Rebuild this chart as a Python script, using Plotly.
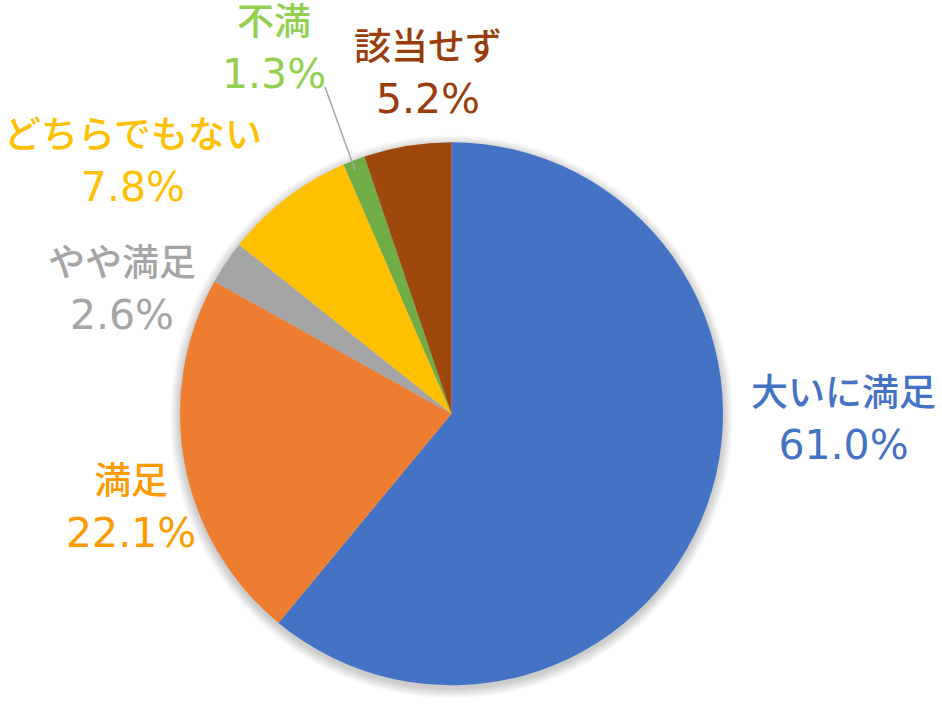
import plotly.graph_objects as go

# Survey answers and their shares (%)
categories = ["大いに満足", "満足", "やや満足", "どちらでもない", "不満", "該当せず"]
shares = [61.0, 22.1, 2.6, 7.8, 1.3, 5.2]

slice_colors = ["#4472C4", "#ED7D31", "#A5A5A5", "#FFC000", "#70AD47", "#9E480E"]
label_colors = ["#4472C4", "#FF9A00", "#A5A5A5", "#FFC000", "#92D050", "#993D0B"]

W, H = 942, 705
CX, CY, R = 451.5, 413.75, 271.5

# label block centres in pixels (name line above value line)
label_pos = [(843, 416), (131, 504), (122, 286), (133, 158), (274, 45), (428, 70)]

JP_FONT = "Noto Sans CJK JP, Noto Sans, sans-serif"
NUM_FONT = "DejaVu Sans, Verdana, sans-serif"


def px(x, y):
    return x / W, 1 - y / H


fig = go.Figure()
fig.add_trace(go.Pie(
    labels=categories,
    values=shares,
    sort=False,
    direction="clockwise",
    rotation=0,
    marker=dict(colors=slice_colors, line=dict(width=0)),
    textinfo="none",
    hoverinfo="label+percent",
    showlegend=False,
    domain=dict(x=[(CX - R) / W, (CX + R) / W], y=[1 - (CY + R) / H, 1 - (CY - R) / H]),
))

# soft drop shadow under the pie
shapes = []
for k in range(10, 0, -1):
    r = R + k
    oy = 3
    shapes.append(dict(
        type="circle", layer="below", xref="paper", yref="paper",
        x0=(CX - r) / W, x1=(CX + r) / W,
        y0=1 - (CY + oy + r) / H, y1=1 - (CY + oy - r) / H,
        fillcolor="rgba(0,0,0,0.018)", line=dict(width=0),
    ))

# leader line for the small slice
x0, y0 = px(325, 87)
x1, y1 = px(355, 170)
shapes.append(dict(type="line", xref="paper", yref="paper", x0=x0, y0=y0, x1=x1, y1=y1,
                   line=dict(color="#A6A6A6", width=1.5)))

annotations = []
for cat, val, col, pos in zip(categories, shares, label_colors, label_pos):
    ax, ay = px(*pos)
    text = (f"<span style='font-family:{JP_FONT};font-size:37px;font-weight:500'>{cat}</span>"
            f"<br>{val:.1f}%")
    annotations.append(dict(text=text, x=ax, y=ay, xref="paper", yref="paper",
                            xanchor="center", yanchor="middle", align="center",
                            showarrow=False,
                            font=dict(family=NUM_FONT, size=41, color=col)))

fig.update_layout(
    width=W, height=H,
    margin=dict(l=0, r=0, t=0, b=0),
    paper_bgcolor="white",
    plot_bgcolor="white",
    shapes=shapes,
    annotations=annotations,
)

fig.write_html("out.html")
